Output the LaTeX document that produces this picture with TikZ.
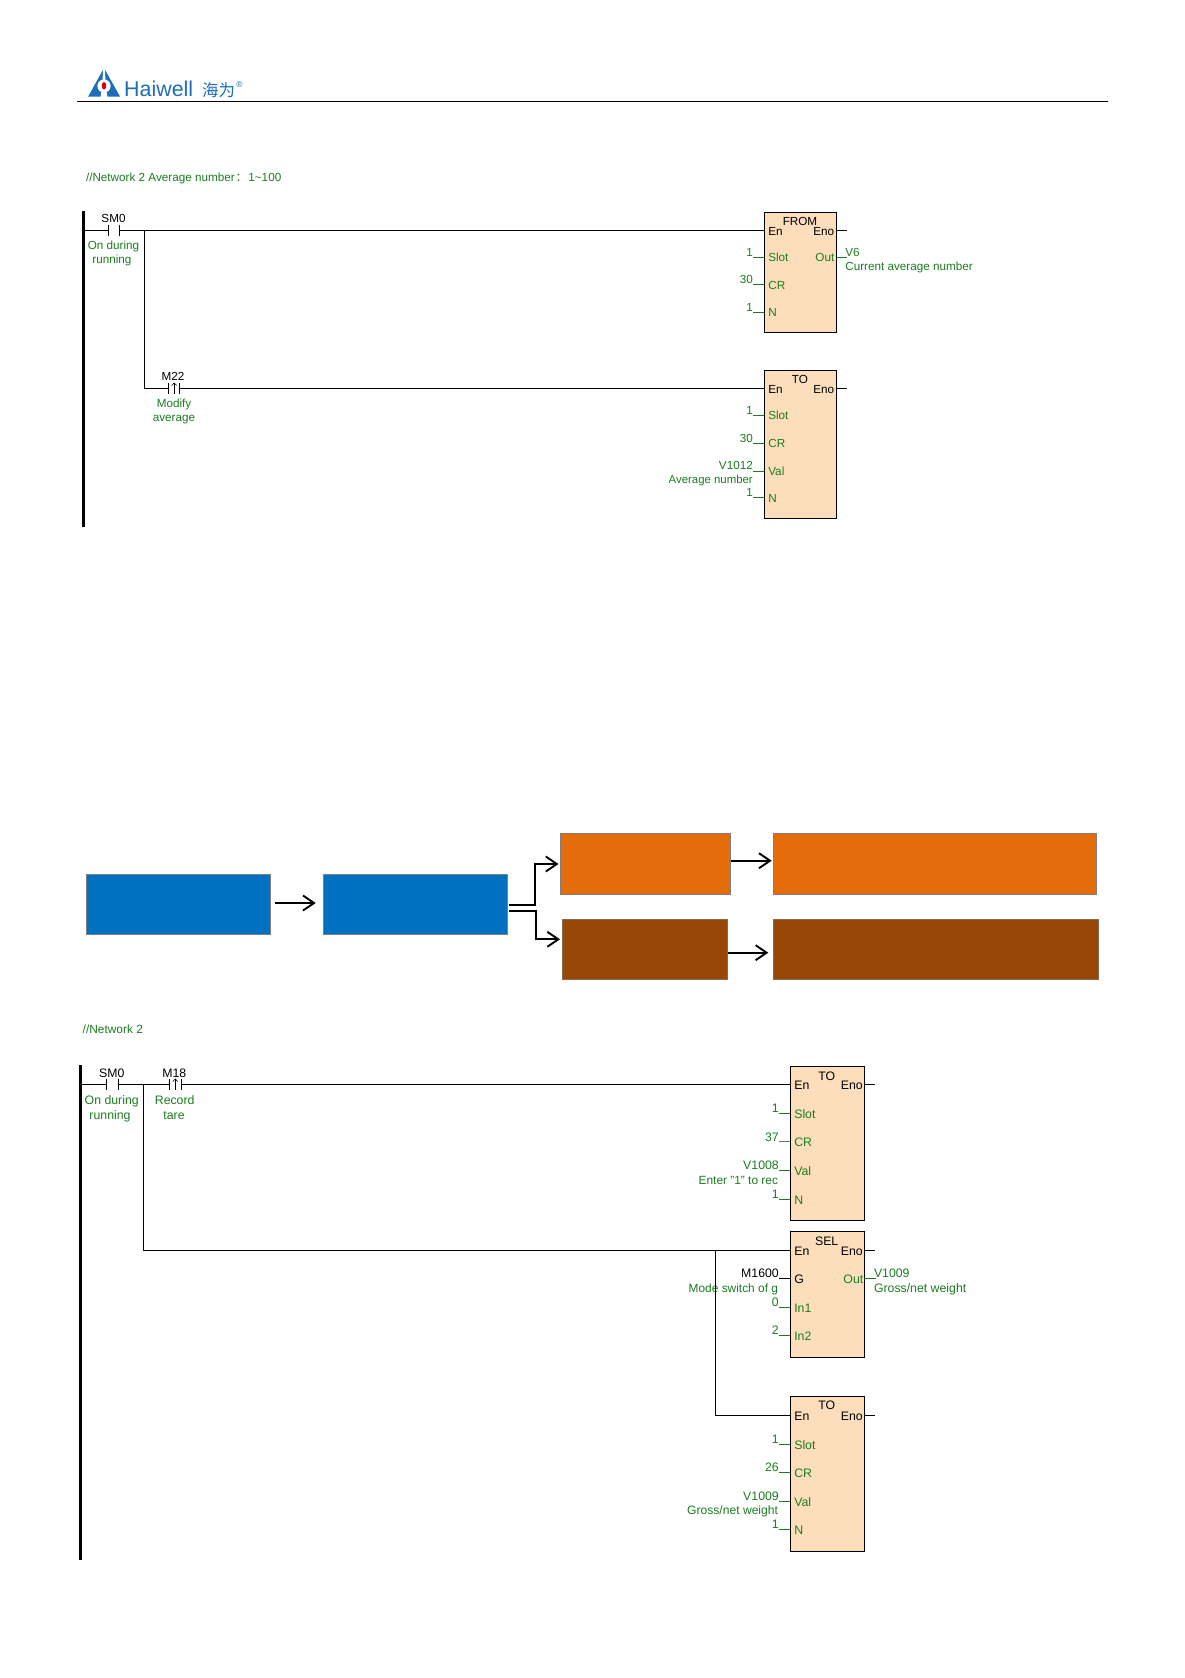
\documentclass[tikz,border=0pt]{standalone}
\usepackage{fontspec}
\setmainfont{Liberation Sans}
\newfontfamily\cjkfont{Noto Sans CJK SC}
\usetikzlibrary{arrows.meta}
\definecolor{plcgreen}{RGB}{28,125,32}
\definecolor{plcfill}{RGB}{253,222,188}
\definecolor{logoblue}{RGB}{30,110,185}
\definecolor{boxblue}{RGB}{0,112,192}
\definecolor{boxorange}{RGB}{228,108,10}
\definecolor{boxbrown}{RGB}{151,72,7}
\tikzset{
  wire/.style={line width=0.95pt,black},
  stub/.style={line width=0.95pt,plcgreen},
  rail/.style={line width=2.8pt,black},
  plcbox/.style={draw=black,line width=0.95pt,fill=plcfill,anchor=north west,inner sep=0pt,outer sep=0pt},
  txa/.style={inner sep=0pt,outer sep=0pt,text height=8.4pt,text depth=0pt,font=\fontsize{11.7}{13}\selectfont},
  txb/.style={inner sep=0pt,outer sep=0pt,text height=8.8pt,text depth=0pt,font=\fontsize{12.3}{14}\selectfont},
  txc/.style={inner sep=0pt,outer sep=0pt,text height=8.8pt,text depth=0pt,font=\fontsize{11.9}{14}\selectfont},
  grn/.style={text=plcgreen},
  blk/.style={text=black},
  flow/.style={line width=1.9pt,black,-{Straight Barb[length=11pt,width=15pt,line width=1.9pt]}},
  colorbox/.style={draw=#1,line width=1.5pt,anchor=north west,inner sep=0pt,outer sep=0pt},
}
% left pin: name, y, pin text, value text, value y offset
\newcommand\pinL[5]{%
  \coordinate (#1a) at (\xL-11.5,#2);
  \coordinate (#1b) at (\xL,#2);
  \draw[stub] (#1a) -- (#1b);
  \node[\ts,grn,anchor=west] (#1p) at (\xL+4,#2+\pinshift) {#3};
  \node[\ts,grn,anchor=east] (#1v) at (\xL-11.5,#2-#5) {#4};
}
% En / Eno of a box: name, x right, y
\newcommand\enpins[3]{%
  \node[\ts,blk,anchor=west] (#1en) at (\xL+4,#3+0.8) {En};
  \node[\ts,blk,anchor=east] (#1eno) at (#2-\enoinset,#3+0.8) {Eno};
  \coordinate (#1i) at (\xL,#3);
  \coordinate (#1r) at (#2,#3);
  \coordinate (#1o) at (#2+10.5,#3);
  \draw[wire] (#1r) -- (#1o);
}
% normally open contact: name, x1, x2, y
\newcommand\contact[4]{%
  \coordinate (#1l) at (#2,#4);
  \coordinate (#1r) at (#3,#4);
  \draw[wire] (#2,#4-5.6) -- (#2,#4+5.6) (#3,#4-5.6) -- (#3,#4+5.6);
}
% rising edge arrow: x, y
\newcommand\rising[2]{%
  \draw[line width=0.7pt,-{Straight Barb[length=2.6pt,width=5pt,line width=0.6pt]}] (#1,#2+5.6) -- (#1,#2-5.8);
}
\begin{document}
\begin{tikzpicture}[x=1pt,y=-1pt]
\useasboundingbox[fill=white] (0,0) rectangle (1185,1678);

%% header
\coordinate (hl) at (77,101.3);
\coordinate (hr) at (1108,101.3);
\draw[line width=1pt] (hl) -- (hr);
\fill[logoblue] (104,68) -- (120,96.5) -- (88.2,96.5) -- cycle;
\fill[white] (103.4,67) -- (104.6,67) -- (105.5,80) -- (102.5,80) -- cycle;
\fill[white] (104,86) circle (6.6);
\fill[white] (101.8,90) -- (106.2,90) -- (107.5,97) -- (100.5,97) -- cycle;
\fill[red!85!black] (104,85.8) ellipse (2.2 and 3.8);
\node[inner sep=0pt,anchor=base west,text=logoblue,font=\fontsize{21.4}{24}\selectfont] (logotext) at (124,96) {Haiwell};
\node[inner sep=0pt,anchor=base west,text=logoblue,font=\cjkfont\fontsize{16.5}{18}\selectfont] (logocjk) at (202,96) {海为};
\node[inner sep=0pt,anchor=center,text=logoblue,font=\fontsize{8.5}{9}\selectfont] (logoreg) at (239.5,84.5) {®};

%% ladder 1
\def\ts{txa}
\def\pinshift{0.3}
\def\enoinset{2.5}
\node[txa,grn,anchor=west] (net1) at (86,177) {//Network 2 Average number\hspace{1pt}{\cjkfont ：}\hspace{1pt}1\textasciitilde 100};
\coordinate (rail1t) at (83.7,211);
\coordinate (rail1b) at (83.7,527);
\draw[rail] (rail1t) -- (rail1b);

\contact{c1}{108.7}{119.3}{230.3}
\node[txa,blk] (c1n) at (113.5,218) {SM0};
\node[txa,grn] (c1a) at (113.5,245) {On during};
\node[txa,grn] (c1b) at (112,259) {running};
\coordinate (r1) at (83.7,230.3);
\coordinate (j1) at (144.3,230.3);
\coordinate (j1b) at (144.3,388.3);

\def\xL{764.3}
\node[plcbox,minimum width=72.4pt,minimum height=120pt] (from) at (764.3,212.3) {};
\node[txa,blk] (fromt) at (800,221) {FROM};
\enpins{f}{836.7}{230.3}
\pinL{fs}{257.2}{Slot}{1}{5}
\pinL{fc}{284.7}{CR}{30}{5}
\pinL{fn}{312.3}{N}{1}{5}
\node[txa,grn,anchor=east] (fout) at (834.3,257.7) {Out};
\coordinate (fouta) at (836.7,257.2);
\coordinate (foutb) at (847,257.2);
\draw[stub] (fouta) -- (foutb);
\node[txa,grn,anchor=west] (fv6) at (845.3,252) {V6};
\node[txa,grn,anchor=west] (fcur) at (845.3,266.3) {Current average number};
\draw[wire] (r1) -- (c1l) (c1r) -- (fi);
\draw[wire] (j1) -- (j1b);

\contact{c2}{168.7}{179.3}{388.3}
\rising{174.2}{388.3}
\node[txa,blk] (c2n) at (173,376) {M22};
\node[txa,grn] (c2a) at (174,403) {Modify};
\node[txa,grn] (c2b) at (174,417) {average};
\node[plcbox,minimum width=72.4pt,minimum height=148pt] (to1) at (764.3,370.3) {};
\node[txa,blk] (to1t) at (800,379) {TO};
\enpins{t}{836.7}{388.3}
\pinL{ts}{415.3}{Slot}{1}{5}
\pinL{tc}{443.3}{CR}{30}{5.5}
\pinL{tv}{471}{Val}{V1012}{6}
\node[inner sep=0pt,outer sep=0pt,text height=8.4pt,text depth=0pt,font=\fontsize{11.4}{13}\selectfont,grn,anchor=east] (tvs) at (752.8,479) {Average number};
\pinL{tn}{497.7}{N}{1}{5.5}
\draw[wire] (j1b) -- (c2l) (c2r) -- (ti);

%% coloured flow
\node[colorbox=gray,fill=boxblue,minimum width=184.4pt,minimum height=60pt] (bl1) at (86.3,874.3) {};
\node[colorbox=gray,fill=boxblue,minimum width=184pt,minimum height=60pt] (bl2) at (323.3,874.3) {};
\node[colorbox=gray,fill=boxorange,minimum width=170.4pt,minimum height=61pt] (or1) at (560.3,833.3) {};
\node[colorbox=gray,fill=boxorange,minimum width=323pt,minimum height=61pt] (or2) at (773.3,833.3) {};
\node[colorbox=gray!60!boxbrown,fill=boxbrown,minimum width=165pt,minimum height=60.4pt] (br1) at (562.7,919.3) {};
\node[colorbox=gray!60!boxbrown,fill=boxbrown,minimum width=325pt,minimum height=60.4pt] (br2) at (773.3,919.3) {};
\coordinate (a1) at (274.7,903);
\coordinate (a2) at (315.7,903);
\draw[flow] (a1) -- (a2);
\coordinate (a3) at (509,904.7);
\coordinate (a4) at (558.5,864);
\draw[flow] (a3) -| (535,864) -- (a4);
\coordinate (a5) at (509,910.7);
\coordinate (a6) at (560,939.3);
\draw[flow] (a5) -| (535.7,939.3) -- (a6);
\coordinate (a7) at (730.7,860.7);
\coordinate (a8) at (771.7,860.7);
\draw[flow] (a7) -- (a8);
\coordinate (a9) at (728,952.7);
\coordinate (a10) at (768.3,952.7);
\draw[flow] (a9) -- (a10);

%% ladder 2
\def\ts{txb}
\def\pinshift{0.9}
\def\enoinset{1.5}
\node[txc,grn,anchor=west] (net2) at (82.7,1029) {//Network 2};
\coordinate (rail2t) at (80.3,1065);
\coordinate (rail2b) at (80.3,1559.5);
\draw[rail] (rail2t) -- (rail2b);

\contact{d1}{106.7}{118.3}{1084.3}
\node[txb,blk] (d1n) at (111.7,1072.7) {SM0};
\node[txb,grn] (d1a) at (111.7,1099.7) {On during};
\node[txb,grn] (d1b) at (110,1115) {running};
\contact{d2}{169.3}{181.3}{1084.3}
\rising{175.3}{1084.3}
\node[txb,blk] (d2n) at (174.3,1072.7) {M18};
\node[txb,grn] (d2a) at (174.7,1099.7) {Record};
\node[txb,grn] (d2b) at (174,1115) {tare};
\coordinate (r2) at (80.3,1084.3);
\coordinate (j2) at (143.3,1084.3);
\coordinate (j2b) at (143.3,1250.7);
\coordinate (j3) at (715.3,1250.7);
\coordinate (j3b) at (715.3,1415);

\def\xL{790.3}
\node[plcbox,minimum width=74pt,minimum height=154pt] (to2) at (790.3,1066.3) {};
\node[txb,blk] (to2t) at (826.7,1075.7) {TO};
\enpins{u}{864.3}{1084.3}
\pinL{us}{1113.3}{Slot}{1}{5.3}
\pinL{uc}{1141.3}{CR}{37}{4.5}
\draw[line width=0.95pt,gray!70!plcgreen] (uca) -- (ucb);
\pinL{uv}{1170.3}{Val}{V1008}{5.3}
\node[txc,grn,anchor=east] (uvs) at (778,1179.7) {Enter "1" to rec};
\pinL{un}{1199}{N}{1}{5}
\draw[wire] (r2) -- (d1l) (d1r) -- (d2l) (d2r) -- (ui);
\draw[wire] (j2) -- (j2b);

\node[plcbox,minimum width=74pt,minimum height=125.6pt] (sel) at (790.3,1231.7) {};
\node[txb,blk] (selt) at (826.7,1240.7) {SEL};
\enpins{s}{864.3}{1250.7}
\coordinate (sga) at (778.8,1278.3);
\coordinate (sgb) at (790.3,1278.3);
\draw[wire] (sga) -- (sgb);
\node[txb,blk,anchor=west] (sgp) at (794.3,1279.2) {G};
\node[txb,blk,anchor=east] (sgv) at (778.8,1272.7) {M1600};
\node[txc,grn,anchor=east] (sgs) at (778,1287.7) {Mode switch of g};
\pinL{si}{1307}{In1}{0}{5.3}
\pinL{sj}{1335.3}{In2}{2}{5.3}
\node[txb,grn,anchor=east] (sout) at (863.3,1279.2) {Out};
\coordinate (souta) at (864.3,1278.3);
\coordinate (soutb) at (876,1278.3);
\draw[stub] (souta) -- (soutb);
\node[txb,grn,anchor=west] (sv) at (874,1272.7) {V1009};
\node[txb,grn,anchor=west] (sw) at (874,1287.7) {Gross/net weight};
\draw[wire] (j2b) -- (si);
\draw[wire] (j3) -- (j3b);

\node[plcbox,minimum width=74pt,minimum height=155pt] (to3) at (790.3,1396.3) {};
\node[txb,blk] (to3t) at (826.7,1405.3) {TO};
\enpins{w}{864.3}{1415}
\pinL{ws}{1444.3}{Slot}{1}{5.3}
\pinL{wc}{1472.3}{CR}{26}{5.3}
\pinL{wv}{1501}{Val}{V1009}{5.3}
\node[inner sep=0pt,outer sep=0pt,text height=8.8pt,text depth=0pt,font=\fontsize{12.1}{14}\selectfont,grn,anchor=east] (wvs) at (778,1510) {Gross/net weight};
\pinL{wn}{1529.3}{N}{1}{5.3}
\draw[wire] (j3b) -- (wi);
\end{tikzpicture}
\end{document}
